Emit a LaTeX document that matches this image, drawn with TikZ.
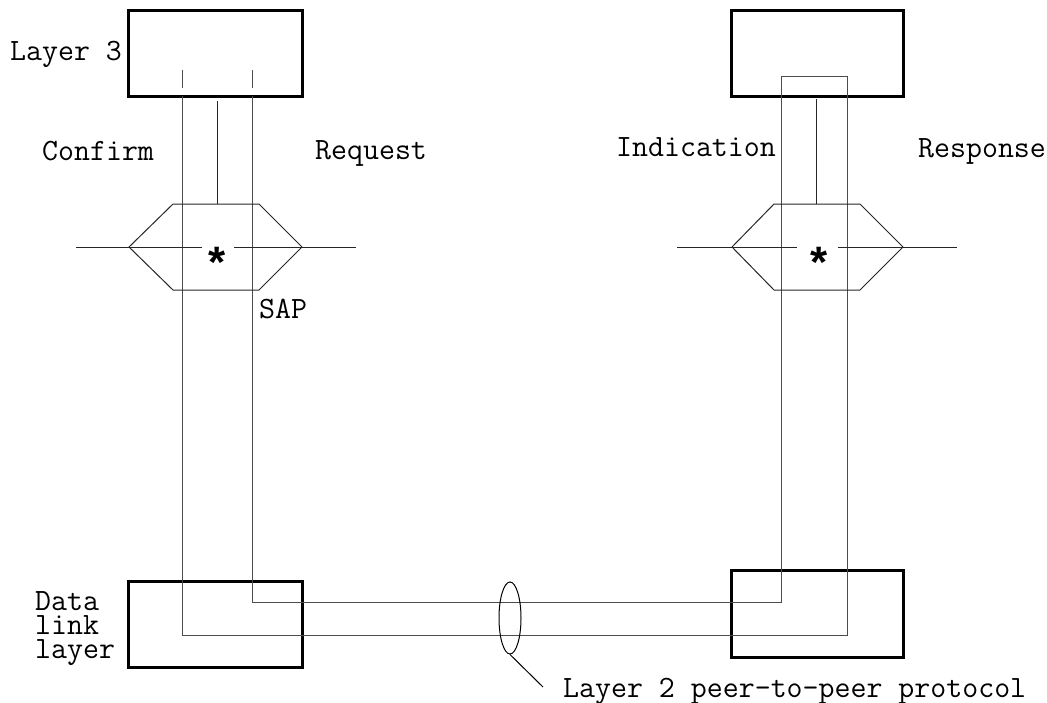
\documentclass[tikz,border=0pt]{standalone}
\usepackage{fontspec}
\usetikzlibrary{shapes.geometric}
\newfontfamily\starfont{Liberation Sans}
\begin{document}
\begin{tikzpicture}[x=1pt,y=-1pt,
  thickbox/.style={draw=black,line width=3pt,minimum width=#1,inner sep=0pt},
  thin/.style={draw=black!70,line width=1pt},
  lbl/.style={anchor=base west,inner sep=0pt,font=\ttfamily\fontsize{31}{24}\selectfont},
  starnode/.style={inner sep=0pt,font=\starfont\bfseries\fontsize{44}{44}\selectfont}]
\useasboundingbox (0,0) rectangle (1047,702);
% boxes
\node[thickbox=174pt,minimum height=86pt] (L3L) at (215,53) {};
\node[thickbox=172pt,minimum height=86pt] (L3R) at (817,53) {};
\node[thickbox=174pt,minimum height=86pt] (DLL) at (215,624) {};
\node[thickbox=172pt,minimum height=87pt] (DLR) at (817,613.5) {};
% coordinates
\coordinate (a1) at (182,70); \coordinate (a2) at (182,88);
\coordinate (b1) at (252,70); \coordinate (b2) at (252,88);
\coordinate (p1) at (182,96); \coordinate (p2) at (252,96);
\coordinate (q1) at (182,635); \coordinate (q2) at (252,602);
\coordinate (r1) at (847,635); \coordinate (r2) at (781,602);
\coordinate (s1) at (847,76); \coordinate (s2) at (781,76);
% tick marks inside left top box
\draw[thin] (a1) -- (a2);
\draw[thin] (b1) -- (b2);
% main loop
\draw[thin] (p2) -- (q2) -- (r2) -- (s2) -- (s1) -- (r1) -- (q1) -- (p1);
% hexagons (SAPs)
\draw[thin,draw=black!85] (173,204) -- (259,204) -- (302,247) -- (259,290) -- (173,290) -- (129,247) -- cycle;
\draw[thin,draw=black!85] (774,204) -- (860,204) -- (903,247) -- (860,290) -- (774,290) -- (732,247) -- cycle;
\coordinate (hl1) at (76,247); \coordinate (hl2) at (202,247);
\coordinate (hl3) at (234,247); \coordinate (hl4) at (356,247);
\coordinate (hr1) at (677,247); \coordinate (hr2) at (797,247);
\coordinate (hr3) at (838,247); \coordinate (hr4) at (957,247);
\draw[thin,draw=black!85] (hl1) -- (hl2) (hl3) -- (hl4);
\draw[thin,draw=black!85] (hr1) -- (hr2) (hr3) -- (hr4);
% middle stems
\coordinate (ml1) at (217,101); \coordinate (ml2) at (217,204);
\coordinate (mr1) at (816,99); \coordinate (mr2) at (816,204);
\draw[thin,draw=black!85] (ml1) -- (ml2);
\draw[thin,draw=black!85] (mr1) -- (mr2);
% stars
\node[starnode] (starL) at (217,262) {*};
\node[starnode] (starR) at (819,262) {*};
% ellipse and leader
\node[draw=black,line width=1pt,ellipse,minimum width=22pt,minimum height=72pt,inner sep=0pt] (ell) at (510,618) {};
\coordinate (lead) at (543,687);
\draw[line width=1pt] (ell.south) -- (lead);
% labels
\node[lbl] (tL3) at (10,60) {Layer 3};
\node[lbl] (tConf) at (42,160) {Confirm};
\node[lbl] (tReq) at (315,159) {Request};
\node[lbl] (tInd) at (616,156) {Indication};
\node[lbl] (tResp) at (918,157) {Response};
\node[lbl] (tSAP) at (259,318) {SAP};
\node[lbl,align=left] (tDL) at (35,658) {Data\\link\\layer};
\node[lbl] (tP) at (563,697) {Layer 2 peer-to-peer protocol};
\end{tikzpicture}
\end{document}
